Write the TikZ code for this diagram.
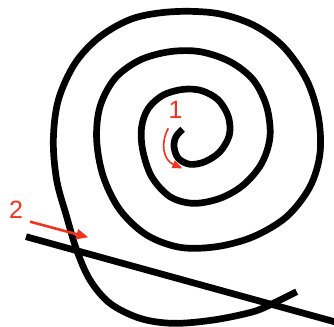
\documentclass[tikz,border=0pt]{standalone}
\usepackage{fontspec}
\setmainfont{Liberation Sans}
\usetikzlibrary{arrows.meta}
\definecolor{redmark}{RGB}{238,52,30}
\tikzset{
  thick line/.style={line width=6.7pt, line join=round},
  red arrow/.style={draw=redmark, fill=redmark},
  red label/.style={text=redmark, font=\fontsize{25}{25}\selectfont, inner sep=0pt}
}
\begin{document}
\begin{tikzpicture}[x=0.33333pt, y=-0.33333pt]
\useasboundingbox (0,0) rectangle (1002,978);
% spiral
\draw[thick line] plot[smooth, tension=0.55] coordinates {
(548,388) (528,410) (522,440) (535,475) (570,493) (615,485) (660,455) (688,405)
(685,350) (655,300) (605,272) (550,268) (490,285) (445,325) (425,380) (428,450)
(455,530) (510,590) (580,610) (660,595) (730,555) (785,490) (810,410) (800,320)
(760,240) (690,185) (600,155) (510,155) (420,180) (345,235) (300,320) (290,420)
(310,530) (360,630) (440,705) (540,742) (650,740) (760,710) (860,650) (930,560)
(960,460) (955,350) (920,240) (850,140) (760,75) (650,40) (520,35) (400,55)
(300,110) (225,190) (175,300) (160,420) (170,540) (200,650) (230,750) (270,840)
(330,910) (420,955) (520,970) (640,960) (760,935) (830,905) (890,875)};
% straight line
\coordinate (la) at (78,710);
\coordinate (lb) at (1010,967);
\draw[thick line] (la) -- (lb);
% labels
\node[red label] (n1) at (527,330) {1};
\node[red label] (n2) at (48,628) {2};
% arrows
\coordinate (a2s) at (90,665);
\coordinate (a2e) at (265,712);
\draw[red arrow, line width=2.6pt, -{Triangle[length=12pt,width=10pt]}] (a2s) -- (a2e);
\coordinate (a1s) at (505,385);
\coordinate (a1e) at (547,505);
\draw[red arrow, fill=none, line width=1.6pt, -{Triangle[length=10pt,width=8pt,fill=redmark]}] (a1s) .. controls (480,430) and (490,480) .. (a1e);
\end{tikzpicture}
\end{document}
